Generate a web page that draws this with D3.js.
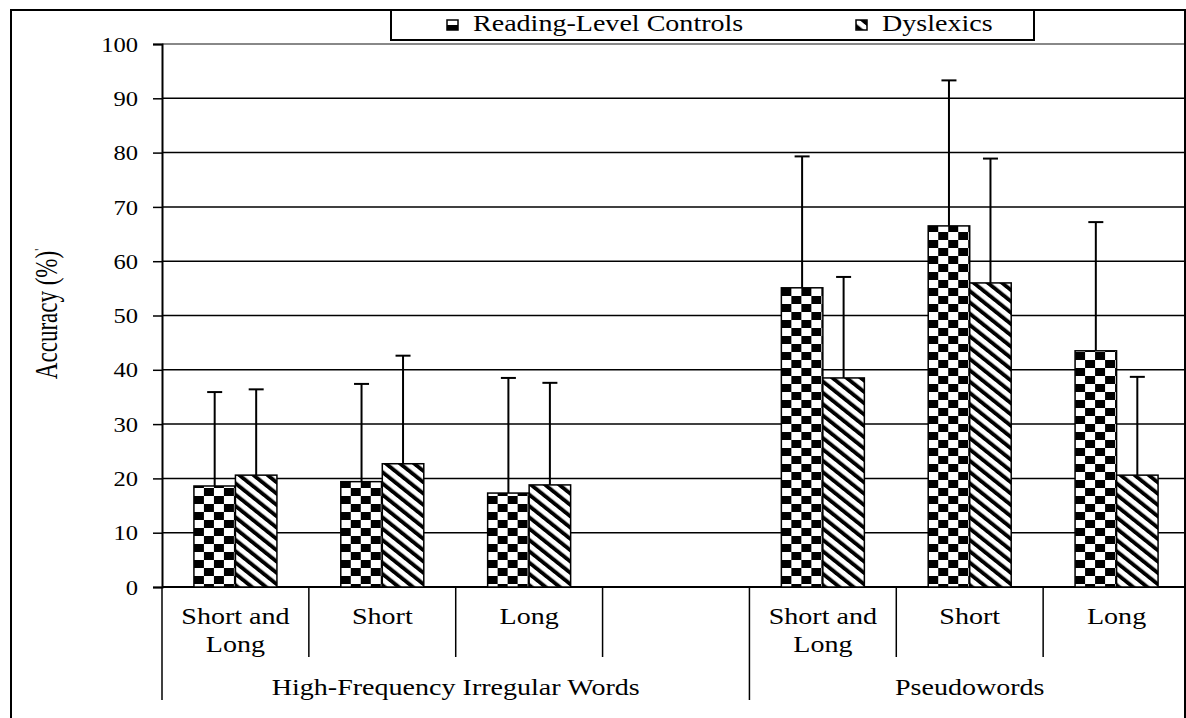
<!DOCTYPE html>
<html>
<head>
<meta charset="utf-8">
<script src="https://cdn.jsdelivr.net/npm/d3@7"></script>
<style>
  body { margin: 0; background: #fff; }
  svg { display: block; }
  svg text { font-family: "Liberation Serif", "Times New Roman", serif; }
</style>
</head>
<body>
<svg width="1186" height="718"></svg>
<script>
// chart data
const categories = ["Short and Long", "Short", "Long", "", "Short and Long", "Short", "Long"];
const groups = ["High-Frequency Irregular Words", "Pseudowords"];
const groupSpans = [[0, 3], [4, 6]]; // first and last slot of each group
const series = ["Reading-Level Controls", "Dyslexics"];
const controls = [18.6, 19.4, 17.3, null, 55.1, 66.5, 43.5];
const dyslexics = [20.6, 22.7, 18.8, null, 38.5, 56.0, 20.6];
const controlsUpper = [35.9, 37.4, 38.5, null, 79.3, 93.3, 67.2];
const dyslexicsUpper = [36.4, 42.6, 37.6, null, 57.1, 78.9, 38.7];
const yTicks = [0, 10, 20, 30, 40, 50, 60, 70, 80, 90, 100];

const svg = d3.select("svg");
const width = 1186;

const plotLeft = 162, plotRight = 1190, plotTop = 44, plotBottom = 587;
const sx = 1.22; // the figure's text is stretched sideways

const y = d3.scaleLinear().domain([0, 100]).range([plotBottom, plotTop]);
const x0 = d3.scaleBand().domain(d3.range(categories.length)).range([plotLeft, plotRight]);
const pairW = 83;
const x1 = d3.scaleBand().domain(series).range([0, pairW]);
const off = (x0.bandwidth() - pairW) / 2;

// patterns
const defs = svg.append("defs");
const checker = defs.append("pattern")
  .attr("id", "checker")
  .attr("patternUnits", "userSpaceOnUse")
  .attr("width", 20).attr("height", 16);
checker.append("rect").attr("width", 20).attr("height", 16).attr("fill", "#fff");
checker.append("rect").attr("width", 10).attr("height", 8).attr("fill", "#000");
checker.append("rect").attr("x", 10).attr("y", 8).attr("width", 10).attr("height", 8).attr("fill", "#000");

const stripes = defs.append("pattern")
  .attr("id", "stripes")
  .attr("patternUnits", "userSpaceOnUse")
  .attr("width", 8).attr("height", 8)
  .attr("patternTransform", "scale(1.25,1) rotate(-45)");
stripes.append("rect").attr("width", 8).attr("height", 8).attr("fill", "#fff");
stripes.append("rect").attr("width", 3.5).attr("height", 8).attr("fill", "#000");

const fills = { "Reading-Level Controls": "url(#checker)", "Dyslexics": "url(#stripes)" };

// gridlines
svg.append("g")
  .selectAll("line")
  .data(yTicks.filter((d) => d > 0))
  .join("line")
  .attr("x1", plotLeft).attr("x2", width)
  .attr("y1", (d) => y(d)).attr("y2", (d) => y(d))
  .attr("stroke", (d) => (d === 100 ? "#888" : "#000"))
  .attr("stroke-width", (d) => (d === 100 ? 2 : 1.5));

// y axis
const yAxis = svg.append("g")
  .attr("transform", `translate(${plotLeft},0)`)
  .call(d3.axisLeft(y).tickValues(yTicks).tickSize(9));
yAxis.select(".domain").attr("stroke", "#000").attr("stroke-width", 2);
yAxis.selectAll(".tick line").attr("stroke", "#000").attr("stroke-width", 1.5);
yAxis.selectAll(".tick text")
  .attr("font-size", 21)
  .attr("fill", "#000")
  .attr("x", -24 / 1.17)
  .attr("dy", "0.34em")
  .attr("transform", "scale(1.17,1)");

// bottom line
svg.append("line")
  .attr("x1", plotLeft).attr("x2", width)
  .attr("y1", plotBottom).attr("y2", plotBottom)
  .attr("stroke", "#000").attr("stroke-width", 2);

// bars
const rows = categories.map((c, i) => ({
  i,
  values: [
    { key: series[0], v: controls[i], up: controlsUpper[i] },
    { key: series[1], v: dyslexics[i], up: dyslexicsUpper[i] },
  ].filter((d) => d.v != null),
}));

const slot = svg.append("g")
  .selectAll("g")
  .data(rows)
  .join("g")
  .attr("transform", (d) => `translate(${x0(d.i) + off},0)`);

slot.selectAll("line.err")
  .data((d) => d.values)
  .join("line")
  .attr("class", "err")
  .attr("x1", (d) => x1(d.key) + x1.bandwidth() / 2)
  .attr("x2", (d) => x1(d.key) + x1.bandwidth() / 2)
  .attr("y1", (d) => y(d.v))
  .attr("y2", (d) => y(d.up))
  .attr("stroke", "#000").attr("stroke-width", 2);

slot.selectAll("line.cap")
  .data((d) => d.values)
  .join("line")
  .attr("class", "cap")
  .attr("x1", (d) => x1(d.key) + x1.bandwidth() / 2 - 7.5)
  .attr("x2", (d) => x1(d.key) + x1.bandwidth() / 2 + 7.5)
  .attr("y1", (d) => y(d.up))
  .attr("y2", (d) => y(d.up))
  .attr("stroke", "#000").attr("stroke-width", 2);

slot.selectAll("rect")
  .data((d) => d.values)
  .join("rect")
  .attr("x", (d) => x1(d.key))
  .attr("width", x1.bandwidth())
  .attr("y", (d) => y(d.v))
  .attr("height", (d) => y(0) - y(d.v))
  .attr("fill", (d) => fills[d.key])
  .attr("stroke", "#000")
  .attr("stroke-width", 1.5);

// category dividers and labels
const bounds = d3.range(categories.length + 1).map((i) => plotLeft + i * x0.step());
const groupBounds = [x0(groupSpans[0][0]), x0(groupSpans[1][0]), plotRight];
svg.append("g")
  .selectAll("line")
  .data(bounds)
  .join("line")
  .attr("x1", (d) => d).attr("x2", (d) => d)
  .attr("y1", plotBottom)
  .attr("y2", (d) => (groupBounds.some((g) => Math.abs(g - d) < 1) ? 700 : 657))
  .attr("stroke", "#000").attr("stroke-width", 1.5);

function stretched(sel, x, yy) {
  return sel.attr("transform", `translate(${x},${yy}) scale(${sx},1)`);
}

const catLabels = svg.append("g")
  .attr("font-size", 23)
  .attr("text-anchor", "middle")
  .attr("fill", "#000");
categories.forEach((c, i) => {
  if (!c) return;
  const words = c.split(" ");
  const lines = words.length > 2 ? [words.slice(0, 2).join(" "), words.slice(2).join(" ")] : [c];
  lines.forEach((ln, k) => {
    stretched(catLabels.append("text").text(ln), x0(i) + x0.bandwidth() / 2, 624 + k * 28);
  });
});

const grpLabels = svg.append("g")
  .attr("font-size", 23)
  .attr("text-anchor", "middle")
  .attr("fill", "#000");
groups.forEach((g, i) => {
  const a = x0(groupSpans[i][0]);
  const b = x0(groupSpans[i][1]) + x0.bandwidth();
  stretched(grpLabels.append("text").text(g), (a + b) / 2, 695);
});

// y title (with the stray mark after it)
const yTitle = svg.append("text")
  .attr("transform", "translate(57,314) rotate(-90) scale(1,1.35)")
  .attr("text-anchor", "middle")
  .attr("font-size", 23)
  .attr("fill", "#000");
yTitle.append("tspan").text("Accuracy (%)");
yTitle.append("tspan").attr("font-size", 11).attr("dy", -9).text("'");

// outer frame
svg.append("rect")
  .attr("x", 11).attr("y", 10)
  .attr("width", 1174).attr("height", 730)
  .attr("fill", "none")
  .attr("stroke", "#000").attr("stroke-width", 2);

// legend
const legend = svg.append("g");
legend.append("rect")
  .attr("x", 391).attr("y", 10)
  .attr("width", 643).attr("height", 30)
  .attr("fill", "#fff")
  .attr("stroke", "#000").attr("stroke-width", 2);
const legendX = [447, 856];
series.forEach((s, i) => {
  legend.append("rect")
    .attr("x", legendX[i]).attr("y", 20)
    .attr("width", 11).attr("height", 10)
    .attr("fill", i === 0 ? "#fff" : "url(#stripes)")
    .attr("stroke", "#000").attr("stroke-width", 1.5);
  if (i === 0) {
    legend.append("rect")
      .attr("x", legendX[i]).attr("y", 25)
      .attr("width", 11).attr("height", 5)
      .attr("fill", "#000");
  }
  stretched(legend.append("text").text(s), legendX[i] + 26, 31)
    .attr("font-size", 23)
    .attr("fill", "#000");
});
</script>
</body>
</html>
